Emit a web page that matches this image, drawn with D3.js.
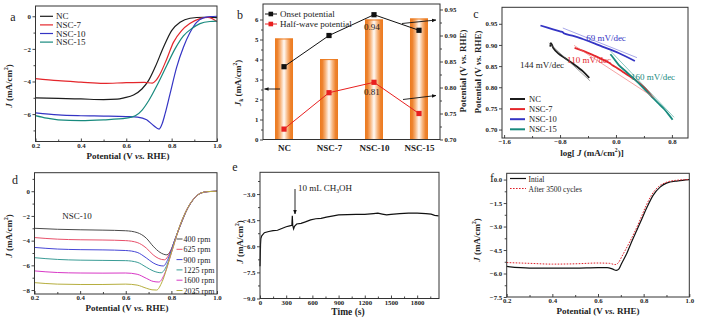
<!DOCTYPE html>
<html>
<head>
<meta charset="utf-8">
<script src="https://cdn.jsdelivr.net/npm/d3@7"></script>
<style>
  body { margin: 0; background: #fff; }
  svg { display: block; }
</style>
</head>
<body>
<svg id="fig" width="702" height="328"></svg>
<script>
// ---------------- data ----------------
// (a) LSV curves, [potential V vs. RHE, J mA/cm2]
const sampleNames = ["NC", "NSC-7", "NSC-10", "NSC-15"];
const sampleColors = ["#1c1c1c", "#e4262b", "#3434c4", "#188a7e"];
const lsvNC = [[0.2,-5.0],[0.3,-5.04],[0.4,-5.07],[0.5,-5.11],[0.56,-5.08],[0.59,-5.0],[0.632,-4.83],[0.669,-4.46],[0.698,-3.95],[0.727,-3.13],[0.764,-1.9],[0.8,-0.88],[0.837,-0.37],[0.881,-0.12],[0.94,-0.06],[1.0,-0.08]];
const lsvNSC7 = [[0.2,-3.82],[0.3,-3.95],[0.4,-4.04],[0.5,-4.12],[0.6,-4.07],[0.68,-4.05],[0.715,-4.1],[0.73,-3.95],[0.749,-3.54],[0.779,-2.6],[0.808,-1.6],[0.844,-0.88],[0.88,-0.45],[0.925,-0.14],[0.96,-0.07],[1.0,-0.33]];
const lsvNSC10 = [[0.2,-5.92],[0.3,-6.05],[0.4,-6.1],[0.5,-6.12],[0.6,-6.15],[0.65,-6.18],[0.69,-6.35],[0.72,-6.7],[0.745,-6.92],[0.758,-6.6],[0.771,-5.99],[0.793,-4.76],[0.822,-3.13],[0.852,-1.9],[0.881,-1.0],[0.91,-0.37],[0.94,-0.1],[0.97,-0.02],[1.0,0]];
const lsvNSC15 = [[0.2,-6.09],[0.25,-6.25],[0.3,-6.35],[0.4,-6.4],[0.5,-6.35],[0.6,-6.25],[0.64,-6.1],[0.67,-5.75],[0.7,-5.15],[0.737,-4.2],[0.779,-3.0],[0.815,-2.0],[0.852,-1.2],[0.889,-0.75],[0.925,-0.45],[0.969,-0.32],[1.0,-0.3]];

// (b) kinetic current density and potentials
const catalysts = ["NC", "NSC-7", "NSC-10", "NSC-15"];
const jkValues = [5.05, 4.02, 6.0, 6.05];
const onsetPotential = [0.84, 0.90, 0.94, 0.91];
const halfWavePotential = [0.72, 0.79, 0.81, 0.75];

// (c) Tafel plots, [log J, potential]
const tafelNC = [[-0.94,0.896],[-0.93,0.904],[-0.915,0.9],[-0.896,0.893],[-0.826,0.88],[-0.732,0.869],[-0.592,0.853],[-0.476,0.838],[-0.382,0.822]];
const tafelNSC7 = [[-0.592,0.893],[-0.45,0.885],[-0.3,0.874],[-0.196,0.866],[-0.1,0.858],[-0.05,0.852],[0.02,0.845],[0.1,0.836],[0.27,0.818],[0.4,0.8],[0.53,0.775]];
const tafelNSC10 = [[-1.08,0.946],[-0.9,0.937],[-0.8,0.932],[-0.76,0.93],[-0.74,0.927],[-0.6,0.921],[-0.476,0.914],[-0.3,0.903],[-0.196,0.896],[0.038,0.881],[0.27,0.862]];
const tafelNSC15 = [[-0.08,0.878],[-0.05,0.872],[0.038,0.853],[0.15,0.836],[0.271,0.818],[0.4,0.797],[0.505,0.779],[0.6,0.763],[0.691,0.748],[0.76,0.734],[0.81,0.723]];
const tafelFitNC = [[-0.96,0.905],[-0.37,0.815]];
const tafelFitNSC7 = [[-0.6,0.899],[0.55,0.775]];
const tafelFitNSC10 = [[-0.76,0.94],[0.3,0.87]];
const tafelFitNSC15 = [[-0.08,0.886],[0.83,0.729]];
const tafelSlopes = ["144 mV/dec", "110 mV/dec", "69 mV/dec", "160 mV/dec"];

// (d) NSC-10 at different rotation rates
const rpmLabels = ["400 rpm", "625 rpm", "900 rpm", "1225 rpm", "1600 rpm", "2025 rpm"];
const rpmColors = ["#4a4a4a", "#e8506a", "#4646d6", "#3a9c96", "#d838c6", "#b6ae3e"];
const rpm400 = [[0.2,-3.0],[0.3,-3.08],[0.4,-3.12],[0.5,-3.15],[0.6,-3.2],[0.65,-3.35],[0.69,-3.8],[0.72,-4.45],[0.75,-4.95],[0.78,-5.15],[0.8,-4.7],[0.82,-3.7],[0.84,-2.75],[0.87,-1.45],[0.9,-0.6],[0.93,-0.15],[0.96,-0.03],[1.0,0]];
const rpm625 = [[0.2,-3.75],[0.3,-3.88],[0.4,-3.93],[0.5,-3.95],[0.6,-4.0],[0.65,-4.15],[0.69,-4.6],[0.72,-5.15],[0.745,-5.45],[0.77,-5.55],[0.79,-5.1],[0.815,-3.95],[0.84,-2.72],[0.87,-1.43],[0.9,-0.59],[0.93,-0.14],[0.96,-0.03],[1.0,0]];
const rpm900 = [[0.2,-4.55],[0.3,-4.68],[0.4,-4.73],[0.5,-4.75],[0.6,-4.8],[0.65,-4.95],[0.69,-5.4],[0.72,-5.8],[0.745,-6.0],[0.765,-6.05],[0.785,-5.5],[0.81,-4.2],[0.84,-2.7],[0.87,-1.42],[0.9,-0.58],[0.93,-0.14],[0.96,-0.03],[1.0,0]];
const rpm1225 = [[0.2,-5.38],[0.3,-5.52],[0.4,-5.58],[0.5,-5.6],[0.6,-5.62],[0.65,-5.75],[0.69,-6.15],[0.72,-6.45],[0.755,-6.6],[0.78,-6.0],[0.805,-4.6],[0.84,-2.68],[0.87,-1.41],[0.9,-0.58],[0.93,-0.14],[0.96,-0.03],[1.0,0]];
const rpm1600 = [[0.2,-6.45],[0.3,-6.58],[0.4,-6.62],[0.5,-6.63],[0.6,-6.62],[0.65,-6.72],[0.69,-7.05],[0.72,-7.3],[0.745,-7.35],[0.77,-6.7],[0.8,-5.0],[0.84,-2.66],[0.87,-1.4],[0.9,-0.57],[0.93,-0.14],[0.96,-0.03],[1.0,0]];
const rpm2025 = [[0.2,-7.4],[0.3,-7.52],[0.4,-7.55],[0.5,-7.55],[0.6,-7.52],[0.65,-7.6],[0.69,-7.85],[0.715,-7.98],[0.735,-8.0],[0.76,-7.3],[0.795,-5.3],[0.84,-2.65],[0.87,-1.4],[0.9,-0.57],[0.93,-0.14],[0.96,-0.03],[1.0,0]];

// (e) chronoamperometric response, [time s, J mA/cm2]
const chrono = [[0,-7.15],[3,-6.6],[6,-5.9],[10,-5.55],[20,-5.4],[50,-5.22],[100,-5.15],[150,-5.1],[200,-5.08],[250,-4.98],[300,-4.88],[340,-4.83],[365,-4.8],[370,-4.25],[375,-4.8],[385,-5.0],[395,-4.85],[420,-4.72],[470,-4.68],[520,-4.6],[580,-4.48],[640,-4.42],[700,-4.4],[760,-4.33],[840,-4.25],[900,-4.2],[1000,-4.18],[1100,-4.17],[1200,-4.17],[1300,-4.12],[1350,-4.1],[1400,-4.15],[1450,-4.2],[1500,-4.17],[1600,-4.12],[1700,-4.1],[1800,-4.1],[1900,-4.12],[1960,-4.15],[2000,-4.22],[2045,-4.25]];

// (f) durability
const durabilityLabels = ["Intial", "After 3500 cycles"];
const lsvInitial = [[0.2,-5.55],[0.3,-5.65],[0.4,-5.65],[0.5,-5.65],[0.6,-5.62],[0.64,-5.62],[0.665,-5.72],[0.68,-5.8],[0.692,-5.7],[0.704,-5.34],[0.726,-4.72],[0.747,-3.99],[0.769,-3.27],[0.791,-2.55],[0.813,-1.82],[0.842,-0.99],[0.872,-0.48],[0.9,-0.23],[0.95,-0.08],[1.0,0]];
const lsvAfter = [[0.2,-5.3],[0.3,-5.35],[0.4,-5.4],[0.5,-5.38],[0.6,-5.33],[0.65,-5.35],[0.675,-5.43],[0.69,-5.3],[0.705,-4.9],[0.72,-4.5],[0.74,-3.95],[0.763,-3.27],[0.785,-2.55],[0.806,-1.82],[0.835,-0.98],[0.865,-0.45],[0.895,-0.2],[0.94,-0.05],[1.0,0]];

// ---------------- helpers ----------------
const FONT = '"Liberation Serif","Times New Roman",serif';
const TICK = 6.8;
const svg = d3.select("#fig");
const defs = svg.append("defs");
defs.append("marker").attr("id", "arrow").attr("viewBox", "0 0 10 10")
  .attr("refX", 9).attr("refY", 5).attr("markerWidth", 5).attr("markerHeight", 5)
  .attr("orient", "auto").append("path").attr("d", "M0,1L10,5L0,9Z").attr("fill", "#111");
const grad = defs.append("linearGradient").attr("id", "barGrad").attr("x1", "0").attr("x2", "1").attr("y1", "0").attr("y2", "0");
[[0, "#ec7a1e"], [0.14, "#ee8430"], [0.3, "#f7b47c"], [0.5, "#fffaf5"], [0.7, "#f7b47c"], [0.86, "#ee8430"], [1, "#ec7a1e"]]
  .forEach(([o, c]) => grad.append("stop").attr("offset", o).attr("stop-color", c));

function styleAxis(sel, size) {
  sel.attr("font-family", null).attr("font-size", null);
  sel.select(".domain").remove();
  sel.selectAll(".tick line").attr("stroke", "#333").attr("stroke-width", 0.9);
  sel.selectAll(".tick text").attr("font-family", FONT).attr("font-size", size || TICK)
    .attr("font-weight", "bold").attr("fill", "#222");
}
function frame(g, b) {
  g.append("rect").attr("x", b.l).attr("y", b.t).attr("width", b.r - b.l).attr("height", b.b - b.t)
    .attr("fill", "none").attr("stroke", "#333").attr("stroke-width", 1);
}
function xAxis(g, x, b, ticks, fmt, minor) {
  styleAxis(g.append("g").attr("transform", `translate(0,${b.b})`)
    .call(d3.axisBottom(x).tickValues(ticks).tickFormat(fmt).tickSize(-3).tickPadding(1.5)));
  if (minor) styleAxis(g.append("g").attr("transform", `translate(0,${b.b})`)
    .call(d3.axisBottom(x).tickValues(minor).tickFormat("").tickSize(-2)));
}
function yAxis(g, y, b, ticks, fmt, minor, right) {
  const gen = right ? d3.axisRight(y) : d3.axisLeft(y);
  styleAxis(g.append("g").attr("transform", `translate(${right ? b.r : b.l},0)`)
    .call(gen.tickValues(ticks).tickFormat(fmt).tickSize(3).tickPadding(1.5)));
  if (minor) {
    const gm = right ? d3.axisRight(y) : d3.axisLeft(y);
    styleAxis(g.append("g").attr("transform", `translate(${right ? b.r : b.l},0)`)
      .call(gm.tickValues(minor).tickFormat("").tickSize(2)));
  }
}
function rich(g, x, y, parts, o) {
  o = o || {};
  const size = o.size || 9;
  const t = g.append("text").attr("font-family", FONT).attr("font-size", size)
    .attr("font-weight", o.bold ? "bold" : "normal").attr("fill", o.fill || "#222")
    .attr("text-anchor", o.anchor || "middle").attr("dominant-baseline", "central");
  if (o.rotate) t.attr("transform", `translate(${x},${y}) rotate(${o.rotate})`);
  else t.attr("x", x).attr("y", y);
  parts.forEach(p => {
    const s = t.append("tspan").text(p.t);
    if (p.i) s.attr("font-style", "italic");
    if (p.sup) s.attr("baseline-shift", "super").attr("font-size", size * 0.62);
    if (p.sub) s.attr("baseline-shift", "sub").attr("font-size", size * 0.62);
  });
  return t;
}
function letter(g, x, y, s) {
  g.append("text").attr("x", x).attr("y", y).attr("font-family", FONT).attr("font-size", 12)
    .attr("fill", "#222").attr("dominant-baseline", "central").attr("text-anchor", "middle").text(s);
}
const potTitle = [{t: "Potential (V "}, {t: "vs.", i: true}, {t: " RHE)"}];
const jTitle = [{t: "J", i: true}, {t: " (mA/cm"}, {t: "2", sup: true}, {t: ")"}];
const fmt1 = d3.format(".1f");
const fmt2 = d3.format(".2f");

// ---------------- (a) ----------------
{
  const b = {l: 35.5, r: 217, t: 6, b: 141.5};
  const g = svg.append("g");
  const x = d3.scaleLinear().domain([0.2, 1.0]).range([b.l, b.r]);
  const y = d3.scaleLinear().domain([-7.68, 0.63]).range([b.b, b.t]);
  const line = d3.line().x(d => x(d[0])).y(d => y(d[1])).curve(d3.curveMonotoneX);
  [lsvNC, lsvNSC7, lsvNSC10, lsvNSC15].forEach((s, i) =>
    g.append("path").datum(s).attr("d", line).attr("fill", "none")
      .attr("stroke", sampleColors[i]).attr("stroke-width", 1.2));
  frame(g, b);
  xAxis(g, x, b, [0.2, 0.4, 0.6, 0.8, 1.0], fmt1, [0.3, 0.5, 0.7, 0.9]);
  yAxis(g, y, b, [0, -2, -4, -6], d3.format("d"), [-1, -3, -5, -7]);
  sampleNames.forEach((n, i) => {
    const yy = 16.3 + i * 8.6;
    g.append("line").attr("x1", 40).attr("x2", 53).attr("y1", yy).attr("y2", yy)
      .attr("stroke", sampleColors[i]).attr("stroke-width", 1.2);
    rich(g, 56, yy, [{t: n}], {anchor: "start", size: 9});
  });
  rich(g, 128, 156, potTitle, {bold: true, size: 9});
  rich(g, 9, 86, jTitle, {bold: true, size: 9, rotate: -90});
  letter(g, 13, 17, "a");
}

// ---------------- (b) ----------------
{
  const b = {l: 263, r: 440, t: 4, b: 139.5};
  const g = svg.append("g");
  const x = d3.scalePoint().domain(catalysts).range([b.l, b.r]).padding(0.467);
  const yL = d3.scaleLinear().domain([0, 6.775]).range([b.b, b.t]);
  const yR = d3.scaleLinear().domain([0.70, 0.9606]).range([b.b, b.t]);
  const bw = 18;
  catalysts.forEach((c, i) => {
    g.append("rect").attr("x", x(c) - bw / 2).attr("y", yL(jkValues[i])).attr("width", bw)
      .attr("height", b.b - yL(jkValues[i])).attr("fill", "url(#barGrad)");
    g.append("line").attr("x1", x(c) - bw / 2).attr("x2", x(c) + bw / 2)
      .attr("y1", yL(jkValues[i]) + 0.5).attr("y2", yL(jkValues[i]) + 0.5)
      .attr("stroke", "#ec7a1e").attr("stroke-width", 1);
  });
  const series = [[onsetPotential, "#111"], [halfWavePotential, "#e82020"]];
  series.forEach(([vals, col]) => {
    g.append("path").datum(vals)
      .attr("d", d3.line().x((d, i) => x(catalysts[i])).y(d => yR(d)))
      .attr("fill", "none").attr("stroke", col).attr("stroke-width", 1);
    g.selectAll(null).data(vals).enter().append("rect")
      .attr("x", (d, i) => x(catalysts[i]) - 2.6).attr("y", d => yR(d) - 2.6)
      .attr("width", 5.2).attr("height", 5.2).attr("fill", col);
  });
  rich(g, x("NSC-10") - 2, yR(onsetPotential[2]) + 12, [{t: fmt2(onsetPotential[2])}], {size: 9});
  rich(g, x("NSC-10") - 2, yR(halfWavePotential[2]) + 10, [{t: fmt2(halfWavePotential[2])}], {size: 9});
  frame(g, b);
  styleAxis(g.append("g").attr("transform", `translate(0,${b.b})`)
    .call(d3.axisBottom(x).tickSize(0).tickPadding(5)), 9);
  yAxis(g, yL, b, [0, 1, 2, 3, 4, 5, 6], d3.format("d"), [0.5, 1.5, 2.5, 3.5, 4.5, 5.5]);
  yAxis(g, yR, b, [0.70, 0.75, 0.80, 0.85, 0.90, 0.95], fmt2, [0.725, 0.775, 0.825, 0.875, 0.925], true);
  // legend
  const leg = [["Onset potential", "#111"], ["Half-wave potential", "#e82020"]];
  leg.forEach(([n, col], i) => {
    const yy = 14 + i * 10;
    g.append("line").attr("x1", 265).attr("x2", 277).attr("y1", yy).attr("y2", yy)
      .attr("stroke", col).attr("stroke-width", 1);
    g.append("rect").attr("x", 268.5).attr("y", yy - 2.3).attr("width", 4.6).attr("height", 4.6).attr("fill", col);
    rich(g, 280, yy, [{t: n}], {anchor: "start", size: 9});
  });
  // arrows pointing to the axes
  [[280, 89, 264.5, 89], [402, 23.5, 436, 20], [403, 99.5, 436, 95.5]].forEach(a =>
    g.append("line").attr("x1", a[0]).attr("y1", a[1]).attr("x2", a[2]).attr("y2", a[3])
      .attr("stroke", "#111").attr("stroke-width", 0.9).attr("marker-end", "url(#arrow)"));
  rich(g, 238, 83, [{t: "J", i: true}, {t: "k", sub: true}, {t: " (mA/cm"}, {t: "2", sup: true}, {t: ")"}],
    {bold: true, size: 9, rotate: -90});
  rich(g, 463, 71, potTitle, {bold: true, size: 9, rotate: -90});
  letter(g, 240, 15, "b");
}

// ---------------- (c) ----------------
{
  const b = {l: 502, r: 688, t: 7.3, b: 138};
  const g = svg.append("g");
  const x = d3.scaleLinear().domain([-1.63, 1.03]).range([b.l, b.r]);
  const y = d3.scaleLinear().domain([0.68, 0.989]).range([b.b, b.t]);
  const line = d3.line().x(d => x(d[0])).y(d => y(d[1])).curve(d3.curveCatmullRom);
  const fits = [tafelFitNC, tafelFitNSC7, tafelFitNSC10, tafelFitNSC15];
  const fitColors = ["#666", "#e66", "#6a6ad8", "#3aa294"];
  [tafelNC, tafelNSC7, tafelNSC10, tafelNSC15].forEach((s, i) => {
    g.append("path").datum(s).attr("d", line).attr("fill", "none")
      .attr("stroke", sampleColors[i]).attr("stroke-width", 1.8);
  });
  fits.forEach((s, i) => g.append("path").datum(s).attr("d", line).attr("fill", "none")
    .attr("stroke", fitColors[i]).attr("stroke-width", 0.6));
  frame(g, b);
  xAxis(g, x, b, [-1.6, -0.8, 0.0, 0.8], fmt1, [-1.2, -0.4, 0.4]);
  yAxis(g, y, b, [0.70, 0.75, 0.80, 0.85, 0.90, 0.95], fmt2);
  const slopePos = [[542, 65], [589, 60], [606, 37.5], [653, 77]];
  tafelSlopes.forEach((s, i) => rich(g, slopePos[i][0], slopePos[i][1], [{t: s}],
    {size: 9, fill: sampleColors[i]}));
  sampleNames.forEach((n, i) => {
    const yy = 99 + i * 10.1;
    g.append("line").attr("x1", 510).attr("x2", 525).attr("y1", yy).attr("y2", yy)
      .attr("stroke", sampleColors[i]).attr("stroke-width", 2);
    rich(g, 529, yy, [{t: n}], {anchor: "start", size: 8.5});
  });
  rich(g, 592, 152.5, [{t: "log[ "}, {t: "J", i: true}, {t: " (mA/cm"}, {t: "2", sup: true}, {t: ")]"}],
    {bold: true, size: 9});
  rich(g, 478, 72, potTitle, {bold: true, size: 9, rotate: -90});
  letter(g, 476, 14, "c");
}

// ---------------- (d) ----------------
{
  const b = {l: 34.5, r: 217, t: 172.7, b: 294};
  const g = svg.append("g");
  const x = d3.scaleLinear().domain([0.2, 1.0]).range([b.l, b.r]);
  const y = d3.scaleLinear().domain([-8.32, 1.5]).range([b.b, b.t]);
  const line = d3.line().x(d => x(d[0])).y(d => y(d[1])).curve(d3.curveMonotoneX);
  [rpm400, rpm625, rpm900, rpm1225, rpm1600, rpm2025].forEach((s, i) =>
    g.append("path").datum(s).attr("d", line).attr("fill", "none")
      .attr("stroke", rpmColors[i]).attr("stroke-width", 1));
  frame(g, b);
  xAxis(g, x, b, [0.2, 0.4, 0.6, 0.8, 1.0], fmt1, [0.3, 0.5, 0.7, 0.9]);
  yAxis(g, y, b, [0, -2, -4, -6, -8], d3.format("d"), [1, -1, -3, -5, -7]);
  rpmLabels.forEach((n, i) => {
    const yy = 239 + i * 10.3;
    g.append("line").attr("x1", 176.5).attr("x2", 182.5).attr("y1", yy).attr("y2", yy)
      .attr("stroke", rpmColors[i]).attr("stroke-width", 1);
    rich(g, 183.5, yy, [{t: n}], {anchor: "start", size: 8});
  });
  rich(g, 77, 215.5, [{t: "NSC-10"}], {size: 9});
  rich(g, 127, 307.5, potTitle, {bold: true, size: 9});
  rich(g, 9, 236, jTitle, {bold: true, size: 9, rotate: -90});
  letter(g, 15, 180, "d");
}

// ---------------- (e) ----------------
{
  const b = {l: 260, r: 439, t: 172.3, b: 298.5};
  const g = svg.append("g");
  const x = d3.scaleLinear().domain([0, 2050]).range([b.l, b.r]);
  const y = d3.scaleLinear().domain([-9, -1.75]).range([b.b, b.t]);
  const line = d3.line().x(d => x(d[0])).y(d => y(d[1]));
  g.append("path").datum(chrono).attr("d", line).attr("fill", "none")
    .attr("stroke", "#111").attr("stroke-width", 1.2);
  frame(g, b);
  xAxis(g, x, b, [0, 300, 600, 900, 1200, 1500, 1800], d3.format("d"), [150, 450, 750, 1050, 1350, 1650, 1950]);
  yAxis(g, y, b, [-3, -4.5, -6, -7.5, -9], fmt1, [-2.25, -3.75, -5.25, -6.75, -8.25]);
  g.append("line").attr("x1", 295).attr("x2", 295).attr("y1", 189).attr("y2", 214)
    .attr("stroke", "#111").attr("stroke-width", 0.9).attr("marker-end", "url(#arrow)");
  rich(g, 298, 188, [{t: "10 mL CH"}, {t: "3", sub: true}, {t: "OH"}], {anchor: "start", size: 9});
  rich(g, 348, 312, [{t: "Time (s)"}], {bold: true, size: 9.5});
  rich(g, 240, 242, jTitle, {bold: true, size: 9, rotate: -90});
  letter(g, 235, 167, "e");
}

// ---------------- (f) ----------------
{
  const b = {l: 506.7, r: 689.3, t: 173.3, b: 297};
  const g = svg.append("g");
  const x = d3.scaleLinear().domain([0.2, 1.0]).range([b.l, b.r]);
  const y = d3.scaleLinear().domain([-7.5, 0.4]).range([b.b, b.t]);
  const line = d3.line().x(d => x(d[0])).y(d => y(d[1])).curve(d3.curveMonotoneX);
  g.append("path").datum(lsvInitial).attr("d", line).attr("fill", "none")
    .attr("stroke", "#111").attr("stroke-width", 1.2);
  g.append("path").datum(lsvAfter).attr("d", line).attr("fill", "none")
    .attr("stroke", "#e0202a").attr("stroke-width", 1).attr("stroke-dasharray", "1.6,1.4");
  frame(g, b);
  xAxis(g, x, b, [0.2, 0.4, 0.6, 0.8, 1.0], fmt1, [0.3, 0.5, 0.7, 0.9]);
  yAxis(g, y, b, [0, -1.5, -3, -4.5, -6, -7.5], fmt1, [-0.75, -2.25, -3.75, -5.25, -6.75]);
  durabilityLabels.forEach((n, i) => {
    const yy = 178.5 + i * 10;
    const l = g.append("line").attr("x1", 510).attr("x2", 526).attr("y1", yy).attr("y2", yy)
      .attr("stroke", i ? "#e0202a" : "#111").attr("stroke-width", i ? 1 : 1.2);
    if (i) l.attr("stroke-dasharray", "1.6,1.4");
    rich(g, 528.5, yy, [{t: n}], {anchor: "start", size: 7.5});
  });
  rich(g, 598, 310.5, potTitle, {bold: true, size: 9});
  rich(g, 477, 240, jTitle, {bold: true, size: 9, rotate: -90});
  letter(g, 492, 178, "f");
}
</script>
</body>
</html>
